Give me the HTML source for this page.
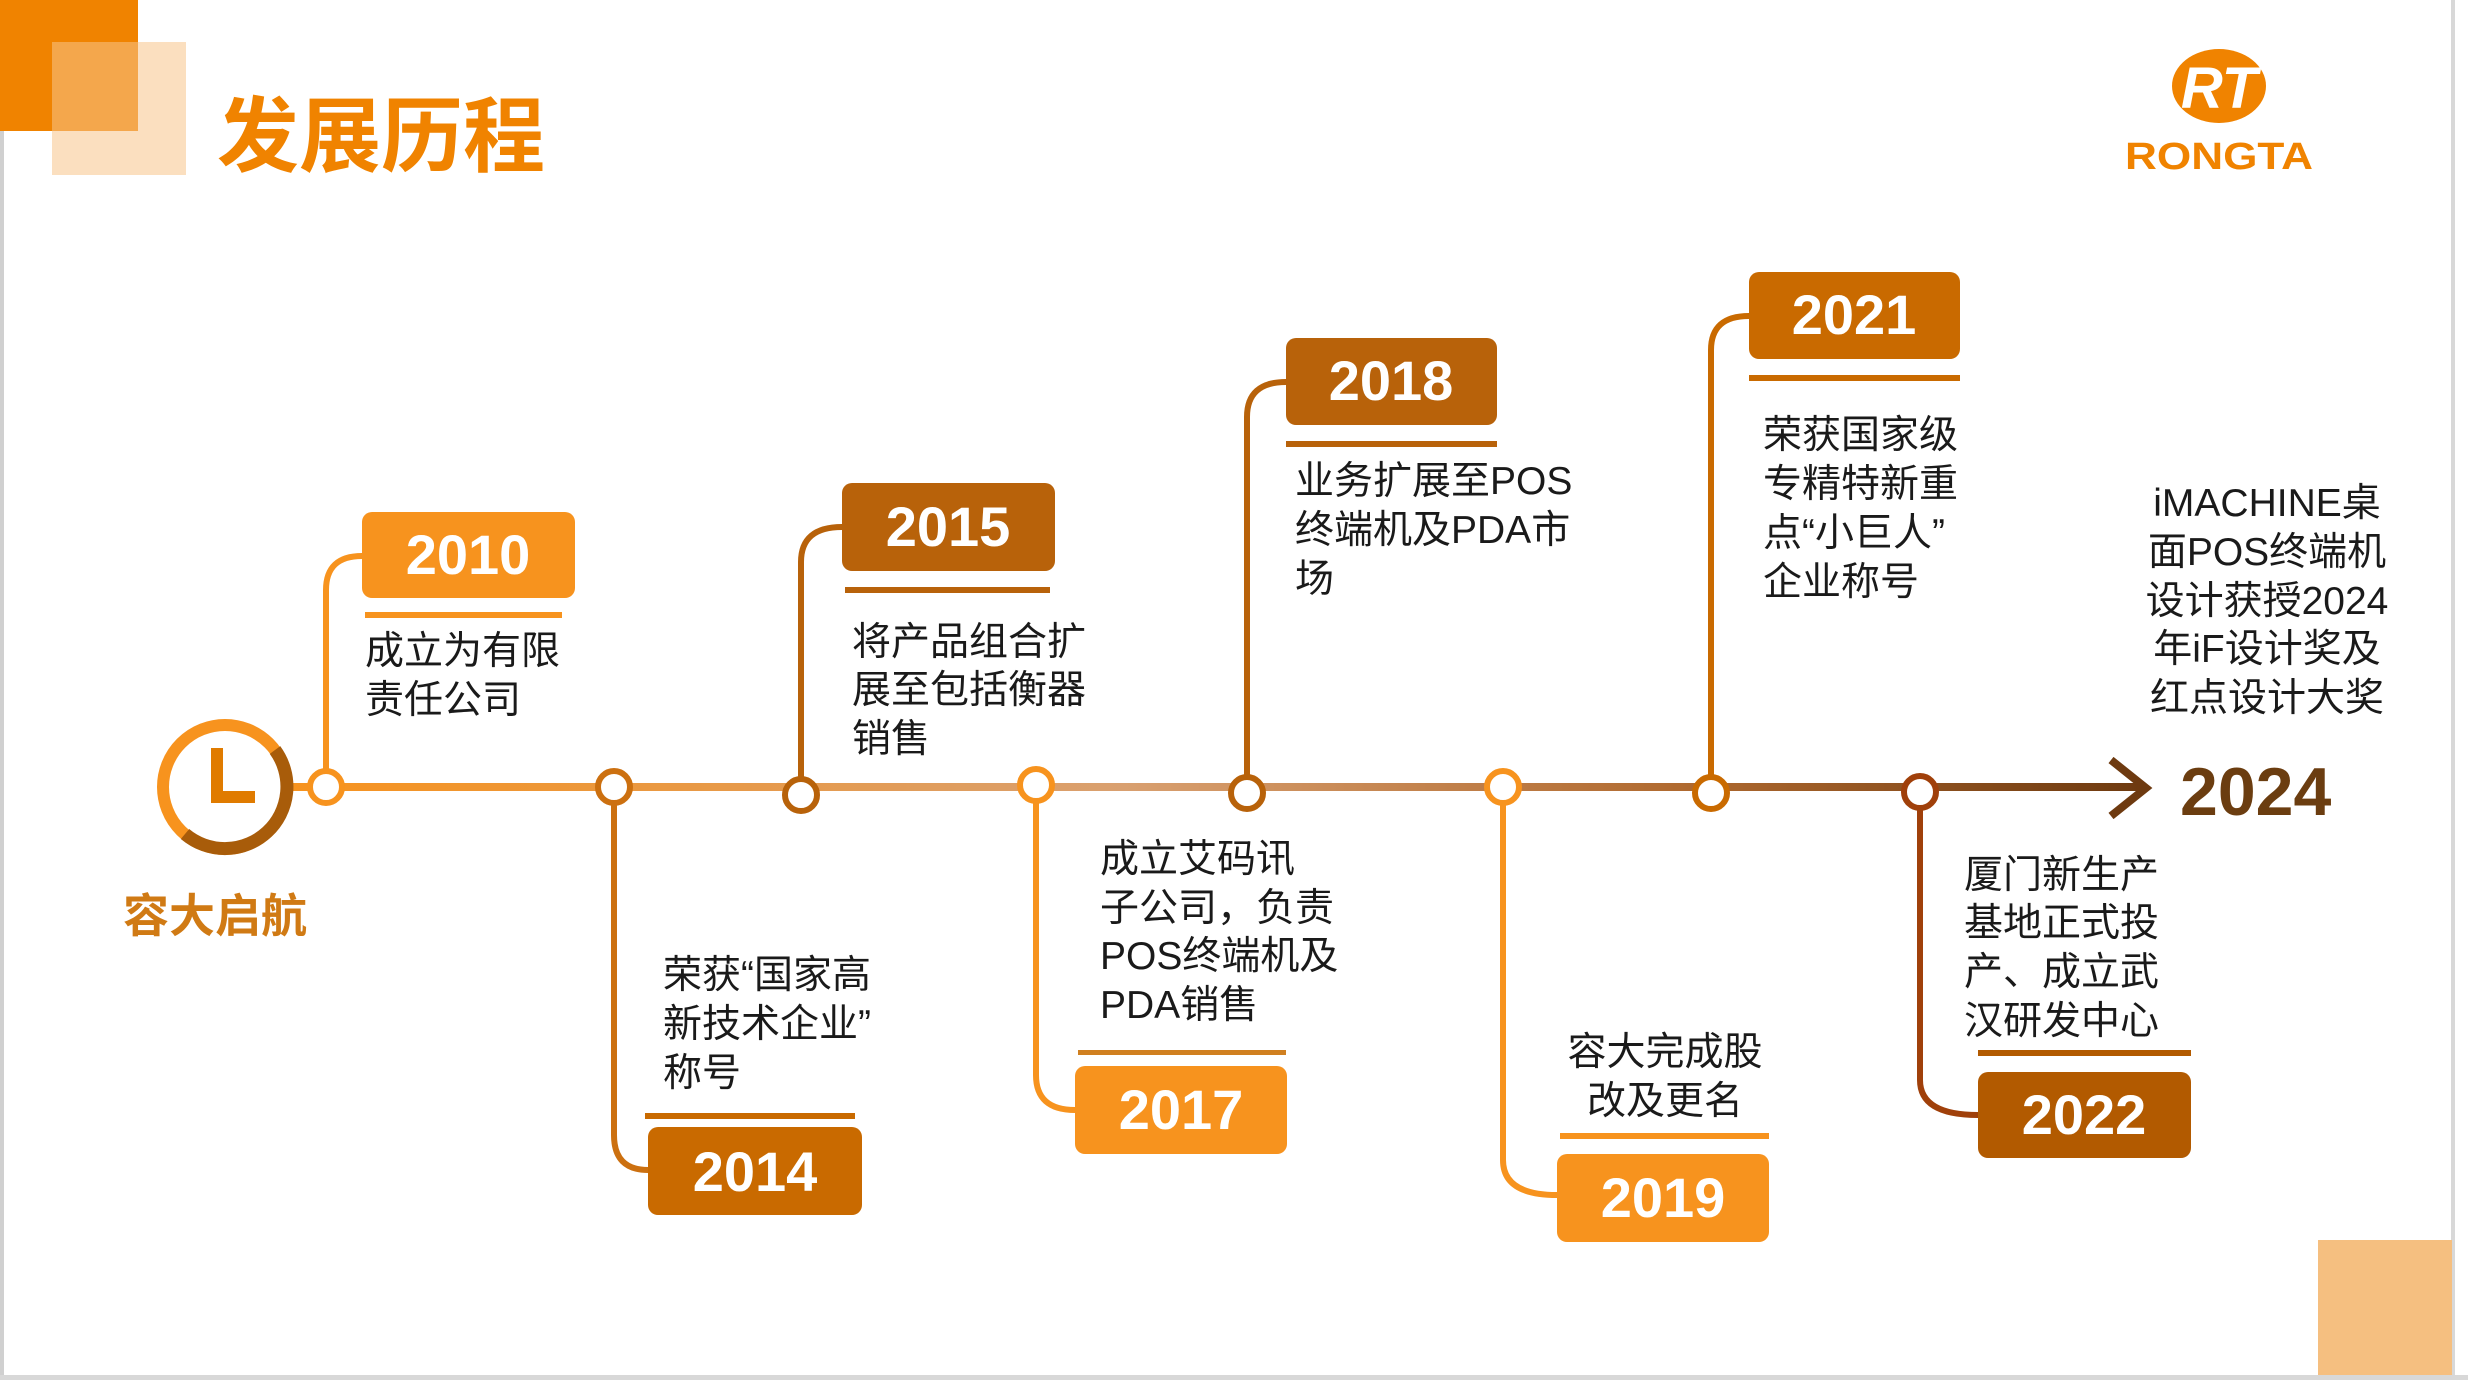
<!DOCTYPE html>
<html><head><meta charset="utf-8"><style>
html,body{margin:0;padding:0;background:#fff}
svg{display:block}
text{font-family:"Liberation Sans","Noto Sans CJK SC",sans-serif}
.b{font-size:39px;fill:#1a1a1a}
.y{font-size:56px;fill:#fff;font-weight:bold;text-anchor:middle}
</style></head><body>
<svg width="2468" height="1380" viewBox="0 0 2468 1380" xmlns="http://www.w3.org/2000/svg">
<defs>
<linearGradient id="g" x1="291" y1="0" x2="2141" y2="0" gradientUnits="userSpaceOnUse">
<stop offset="0" stop-color="#f7931e"/><stop offset="0.45" stop-color="#d9a070"/><stop offset="0.75" stop-color="#b06a30"/><stop offset="1" stop-color="#6e3a10"/>
</linearGradient>
</defs>
<rect x="0" y="0" width="2468" height="1380" fill="#fff"/>
<rect x="0" y="0" width="4" height="1380" fill="#d0d0d0"/>
<rect x="2451" y="0" width="4" height="1380" fill="#d8d8d8"/>
<rect x="0" y="1375" width="2468" height="5" fill="#d8d8d8"/>
<!-- decor -->
<rect x="0" y="0" width="138" height="131" fill="#f08300"/>
<rect x="52" y="42" width="134" height="133" fill="#f8c48a" opacity="0.55"/>
<rect x="2318" y="1240" width="134" height="135" fill="#f5bf80"/>
<text x="217" y="165" font-size="82" font-weight="bold" fill="#f08300">发展历程</text>
<!-- logo -->
<ellipse cx="2219" cy="86" rx="47" ry="37" fill="#f08300"/>
<text x="2219" y="108" font-size="58" font-weight="bold" font-style="italic" fill="#fff" text-anchor="middle">RT</text>
<text x="2219" y="169" font-size="38" font-weight="bold" fill="#f08300" text-anchor="middle" textLength="188" lengthAdjust="spacingAndGlyphs">RONGTA</text>
<!-- main line -->
<rect x="291" y="783" width="1852" height="8" fill="url(#g)"/>
<polyline points="2111,760 2146,788 2111,816" fill="none" stroke="#6e3a10" stroke-width="8"/>
<text x="2180" y="815" font-size="68" font-weight="bold" fill="#6b3d10">2024</text>
<!-- clock -->
<circle cx="225" cy="787" r="62" fill="none" stroke="#f7931e" stroke-width="12"/>
<path d="M 275 750 A 62 62 0 0 1 185 834" fill="none" stroke="#a85c0a" stroke-width="13"/>
<path d="M 217 748 L 217 797 L 255 797" fill="none" stroke="#e07b00" stroke-width="12"/>
<text x="123" y="932" font-size="46" font-weight="bold" fill="#d07a14">容大启航</text>

<!-- 2010 -->
<path d="M326 787 V590 Q326 556 362 556" fill="none" stroke="#f7931e" stroke-width="6"/>
<rect x="362" y="512" width="213" height="86" rx="10" fill="#f7931e"/>
<text class="y" x="468" y="574">2010</text>
<rect x="365" y="612" width="197" height="6" fill="#f7931e"/>
<text class="b" x="365" y="664">成立为有限</text><text class="b" x="365" y="713">责任公司</text>
<circle cx="326" cy="787" r="16" fill="#fff" stroke="#f7931e" stroke-width="6"/>

<!-- 2014 -->
<path d="M614 787 V1135 Q614 1170 648 1170" fill="none" stroke="#cc7010" stroke-width="6"/>
<rect x="648" y="1127" width="214" height="88" rx="10" fill="#c96a00"/>
<text class="y" x="755" y="1191">2014</text>
<rect x="645" y="1113" width="210" height="6" fill="#c96a00"/>
<text class="b" x="663" y="988">荣获“国家高</text><text class="b" x="663" y="1037">新技术企业”</text><text class="b" x="663" y="1086">称号</text>
<circle cx="614" cy="787" r="16" fill="#fff" stroke="#cc7010" stroke-width="6"/>

<!-- 2015 -->
<path d="M801 795 V562 Q801 527 842 527" fill="none" stroke="#b8620a" stroke-width="6"/>
<rect x="842" y="483" width="213" height="88" rx="10" fill="#b8620a"/>
<text class="y" x="948" y="546">2015</text>
<rect x="845" y="587" width="205" height="6" fill="#b8620a"/>
<text class="b" x="852" y="655">将产品组合扩</text><text class="b" x="852" y="703">展至包括衡器</text><text class="b" x="852" y="752">销售</text>
<circle cx="801" cy="795" r="16" fill="#fff" stroke="#b8620a" stroke-width="6"/>

<!-- 2017 -->
<path d="M1036 787 V1075 Q1036 1110 1075 1110" fill="none" stroke="#f7931e" stroke-width="6"/>
<rect x="1075" y="1066" width="212" height="88" rx="10" fill="#f7931e"/>
<text class="y" x="1181" y="1129">2017</text>
<rect x="1078" y="1050" width="208" height="5" fill="#d08020"/>
<text class="b" x="1100" y="872">成立艾码讯</text><text class="b" x="1100" y="921">子公司，负责</text><text class="b" x="1100" y="969">POS终端机及</text><text class="b" x="1100" y="1018">PDA销售</text>
<circle cx="1036" cy="785" r="16" fill="#fff" stroke="#f7931e" stroke-width="6"/>

<!-- 2018 -->
<path d="M1247 793 V417 Q1247 382 1286 382" fill="none" stroke="#b8620a" stroke-width="6"/>
<rect x="1286" y="338" width="211" height="87" rx="10" fill="#b8620a"/>
<text class="y" x="1391" y="400">2018</text>
<rect x="1286" y="441" width="211" height="6" fill="#b8620a"/>
<text class="b" x="1295" y="494">业务扩展至POS</text><text class="b" x="1295" y="543">终端机及PDA市</text><text class="b" x="1295" y="592">场</text>
<circle cx="1247" cy="793" r="16" fill="#fff" stroke="#b8620a" stroke-width="6"/>

<!-- 2019 -->
<path d="M1503 787 V1160 Q1503 1195 1557 1195" fill="none" stroke="#f7931e" stroke-width="6"/>
<rect x="1557" y="1154" width="212" height="88" rx="10" fill="#f7931e"/>
<text class="y" x="1663" y="1217">2019</text>
<rect x="1560" y="1133" width="209" height="6" fill="#f7931e"/>
<text class="b" x="1665" y="1065" text-anchor="middle">容大完成股</text><text class="b" x="1665" y="1114" text-anchor="middle">改及更名</text>
<circle cx="1503" cy="787" r="16" fill="#fff" stroke="#f7931e" stroke-width="6"/>

<!-- 2021 -->
<path d="M1711 793 V350 Q1711 316 1749 316" fill="none" stroke="#c96a00" stroke-width="6"/>
<rect x="1749" y="272" width="211" height="87" rx="10" fill="#c96a00"/>
<text class="y" x="1854" y="334">2021</text>
<rect x="1749" y="375" width="211" height="6" fill="#c96a00"/>
<text class="b" x="1763" y="448">荣获国家级</text><text class="b" x="1763" y="497">专精特新重</text><text class="b" x="1763" y="546">点“小巨人”</text><text class="b" x="1763" y="595">企业称号</text>
<circle cx="1711" cy="793" r="16" fill="#fff" stroke="#c96a00" stroke-width="6"/>

<!-- 2022 -->
<path d="M1920 792 V1080 Q1920 1115 1978 1115" fill="none" stroke="#a0400a" stroke-width="6"/>
<rect x="1978" y="1072" width="213" height="86" rx="10" fill="#b25a00"/>
<text class="y" x="2084" y="1134">2022</text>
<rect x="1978" y="1050" width="213" height="6" fill="#b25a00"/>
<text class="b" x="1964" y="888">厦门新生产</text><text class="b" x="1964" y="936">基地正式投</text><text class="b" x="1964" y="985">产、成立武</text><text class="b" x="1964" y="1034">汉研发中心</text>
<circle cx="1920" cy="792" r="16" fill="#fff" stroke="#a0400a" stroke-width="6"/>

<!-- 2024 -->
<g class="b" text-anchor="middle">
<text class="b" x="2267" y="516" text-anchor="middle">iMACHINE桌</text>
<text class="b" x="2267" y="565" text-anchor="middle">面POS终端机</text>
<text class="b" x="2267" y="614" text-anchor="middle">设计获授2024</text>
<text class="b" x="2267" y="662" text-anchor="middle">年iF设计奖及</text>
<text class="b" x="2267" y="711" text-anchor="middle">红点设计大奖</text>
</g>
</svg>
</body></html>
